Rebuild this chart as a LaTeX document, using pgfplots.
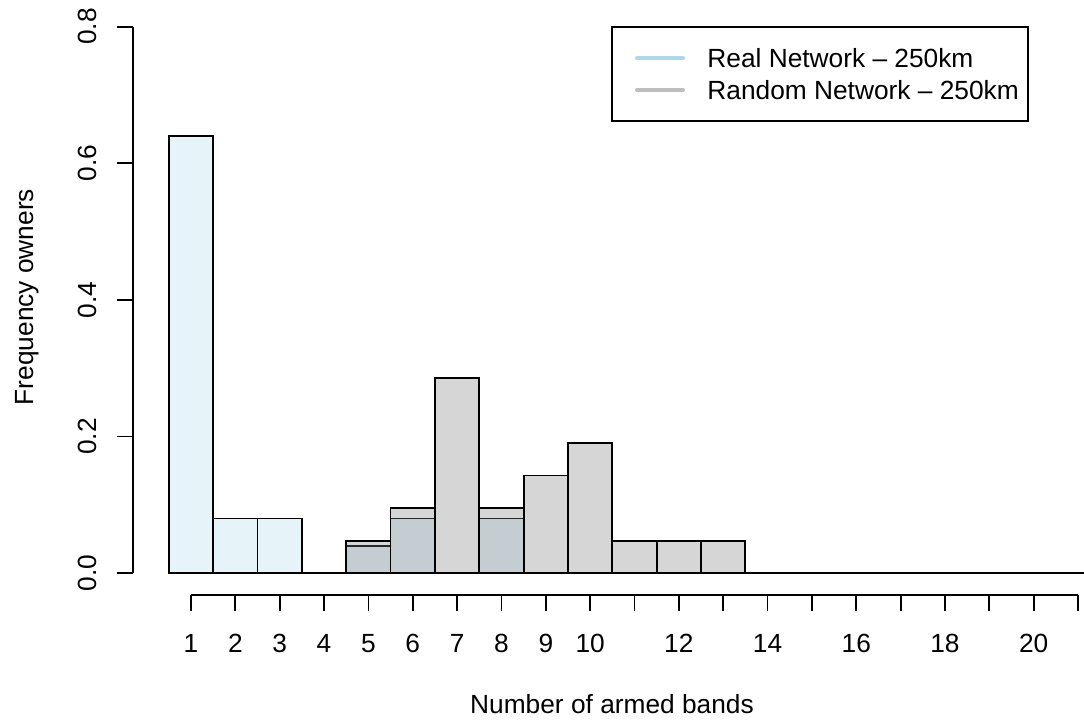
\documentclass[border=0pt]{standalone}
\usepackage{pgfplots}
\pgfplotsset{compat=1.18}
\usepackage{fontspec}
\setmainfont{Liberation Sans}
\definecolor{realfill}{RGB}{230,243,248}
\definecolor{randfill}{RGB}{127,127,127}
\definecolor{lblue}{HTML}{ADD8E6}
\definecolor{lgrey}{HTML}{BEBEBE}
\begin{document}
\begin{tikzpicture}[font=\fontsize{13.2}{15.8}\selectfont]
\path[use as bounding box] (0,0) rectangle (542bp,361bp);
\begin{axis}[
  at={(66.5bp,63.5bp)}, anchor=south west,
  scale only axis, width=475.5bp, height=295.1bp,
  xmin=-0.308, xmax=21.135, ymin=-0.032, ymax=0.832,
  axis x line*=bottom, axis y line*=left,
  axis line style={draw=none},
  tick align=outside, major tick length=8bp,
  every tick/.style={black, line width=0.9bp},
  xtick={1,...,21},
  xticklabels={1,2,3,4,5,6,7,8,9,10,,12,,14,,16,,18,,20,},
  ytick={0,0.2,0.4,0.6,0.8},
  yticklabels={0.0,0.2,0.4,0.6,0.8},
  xticklabel style={anchor=north, inner sep=0pt, yshift=-11.5bp},
  yticklabel style={xshift=-10bp, rotate=90, anchor=south, inner sep=0pt},
  /pgf/number format/assume math mode=true,
  minor tick num=0,
]
\addplot[ybar interval, fill=realfill, draw=black, line width=0.9bp] coordinates {
(0.5,0.64)(1.5,0.08)(2.5,0.08)(3.5,0)(4.5,0.04)(5.5,0.08)(6.5,0)(7.5,0.08)(8.5,0)};
\addplot[ybar interval, fill=randfill, fill opacity=0.32, draw=black, line width=0.9bp] coordinates {
(4.5,0.0476)(5.5,0.0952)(6.5,0.2857)(7.5,0.0952)(8.5,0.1429)(9.5,0.1905)(10.5,0.0476)(11.5,0.0476)(12.5,0.0476)(13.5,0)(14.5,0)(15.5,0)(16.5,0)(17.5,0)(18.5,0)(19.5,0)(20.5,0)(21.5,0)};
\coordinate (xa) at (axis cs:1,-0.032);
\coordinate (xb) at (axis cs:21,-0.032);
\coordinate (ya) at (axis cs:-0.308,0);
\coordinate (yb) at (axis cs:-0.308,0.8);
\end{axis}
\draw[line width=0.9bp] (xa) -- (xb);
\draw[line width=0.9bp] (ya) -- (yb);
\draw[line width=0.9bp] (306bp,300.5bp) rectangle (514bp,347.5bp);
\draw[lblue, line width=2bp, line cap=round] (318.5bp,332bp) -- (341.5bp,332bp);
\draw[lgrey, line width=2bp, line cap=round] (318.5bp,316bp) -- (341.5bp,316bp);
\node[anchor=base west, inner sep=0pt] at (353.5bp,327.2bp) {Real Network – 250km};
\node[anchor=base west, inner sep=0pt] at (353.5bp,311.2bp) {Random Network – 250km};
\node[anchor=base, inner sep=0pt] at (306bp,4.5bp) {Number of armed bands};
\node[rotate=90, anchor=base, inner sep=0pt] at (16.5bp,212.5bp) {Frequency owners};
\end{tikzpicture}
\end{document}
